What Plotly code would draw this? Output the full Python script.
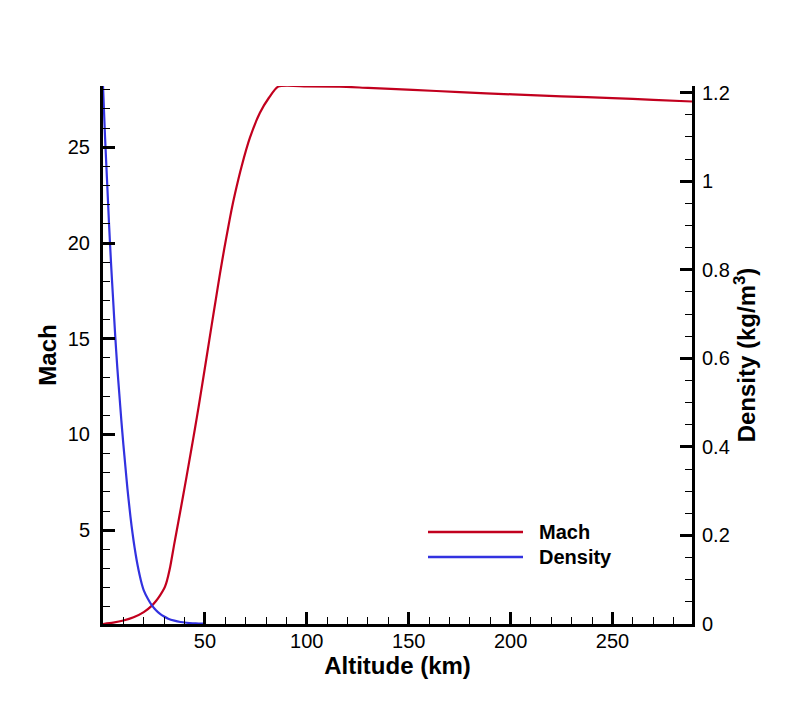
import plotly.graph_objects as go

# Mach vs altitude
mach_alt = [0, 5, 10, 15, 20, 24, 26, 28, 30, 31, 32, 33, 35, 37, 39.4, 41, 43.4, 45.1, 47, 49.2,
            51, 53.3, 55.5, 57.4, 59.5, 61.4, 63, 64.7, 68, 72.1, 77, 81.5, 86,
            100, 116, 130, 152, 175, 201, 225, 250, 270, 289]
mach_val = [0.10, 0.17, 0.28, 0.45, 0.72, 1.06, 1.30, 1.60, 1.95, 2.22, 2.62, 3.10, 4.30, 5.45, 6.85, 7.80, 9.25, 10.30, 11.50, 12.95,
            14.15, 15.70, 17.15, 18.40, 19.70, 20.80, 21.70, 22.55, 24.00, 25.50, 26.80, 27.60, 28.17,
            28.18, 28.17, 28.10, 28.00, 27.88, 27.76, 27.66, 27.57, 27.48, 27.39]

# Density vs altitude
dens_alt = [0, 1, 2, 3, 4, 5, 6, 7, 8, 9, 10, 11, 12, 13, 14, 15, 16, 17, 18, 19, 20,
            22, 24, 26, 28, 30, 32, 35, 38, 41, 44, 47, 50]
dens_val = [1.215, 1.10, 1.00, 0.90, 0.81, 0.73, 0.65, 0.58, 0.52, 0.46, 0.405, 0.355, 0.305, 0.262, 0.222, 0.188, 0.158, 0.132, 0.110, 0.091, 0.076,
            0.057, 0.042, 0.031, 0.023, 0.017, 0.012, 0.0075, 0.0045, 0.0028, 0.0017, 0.0011, 0.0007]

x_ticks = [50, 100, 150, 200, 250]

FONT = "Arial, 'Liberation Sans', sans-serif"
RED = "#c2001e"
BLUE = "#3232e0"

fig = go.Figure()
fig.add_trace(go.Scatter(x=mach_alt, y=mach_val, mode="lines", name="Mach",
                         line=dict(color=RED, width=2.2, shape="spline", smoothing=0.6), yaxis="y"))
fig.add_trace(go.Scatter(x=dens_alt, y=dens_val, mode="lines", name="Density",
                         line=dict(color=BLUE, width=2.2, shape="spline", smoothing=0.6), yaxis="y2"))

axis_common = dict(showgrid=False, zeroline=False, showline=True, linecolor="black", linewidth=3,
                   ticks="inside", tickcolor="black", tickwidth=2.5, ticklen=12,
                   tickfont=dict(family=FONT, size=20, color="black"))

TITLE_FONT = dict(family=FONT, size=24, color="black")

fig.update_layout(
    width=790, height=702,
    margin=dict(l=103, r=98, t=86, b=78),
    paper_bgcolor="white", plot_bgcolor="white",
    showlegend=False,
    xaxis=dict(range=[0, 289], tickvals=x_ticks,
               minor=dict(dtick=10, tick0=0, ticks="inside", ticklen=7, tickwidth=1, tickcolor="black"),
               title=dict(text="<b>Altitude (km)</b>", font=TITLE_FONT, standoff=0),
               ticklabelstandoff=-3,
               **axis_common),
    yaxis=dict(range=[0.1, 28.2], dtick=5, tick0=0,
               minor=dict(dtick=1, tick0=0, ticks="inside", ticklen=7, tickwidth=1, tickcolor="black"),
               title=dict(text="<b>Mach</b>", font=TITLE_FONT, standoff=5),
               ticklabelstandoff=6,
               **axis_common),
    yaxis2=dict(range=[0, 1.215], dtick=0.2, tick0=0, overlaying="y", side="right",
                minor=dict(dtick=0.05, tick0=0, ticks="inside", ticklen=7, tickwidth=1, tickcolor="black"),
                title=dict(text="<b>Density (kg/m<sup>3</sup>)</b>", font=TITLE_FONT, standoff=8),
                ticklabelstandoff=3,
                **axis_common),
)

# manual legend
legend_items = [("Mach", RED, 532), ("Density", BLUE, 557)]
for name, color, ypx in legend_items:
    fig.add_shape(type="line", xref="paper", yref="paper",
                  x0=(428 - 103) / 589, x1=(523 - 103) / 589,
                  y0=(624 - ypx) / 538, y1=(624 - ypx) / 538,
                  line=dict(color=color, width=2.5))
    fig.add_annotation(xref="paper", yref="paper", x=(537 - 103) / 589, y=(624 - ypx) / 538,
                       xanchor="left", yanchor="middle", showarrow=False,
                       text=f"<b>{name}</b>", font=dict(family=FONT, size=20, color="black"))

fig.write_html("out.html")
